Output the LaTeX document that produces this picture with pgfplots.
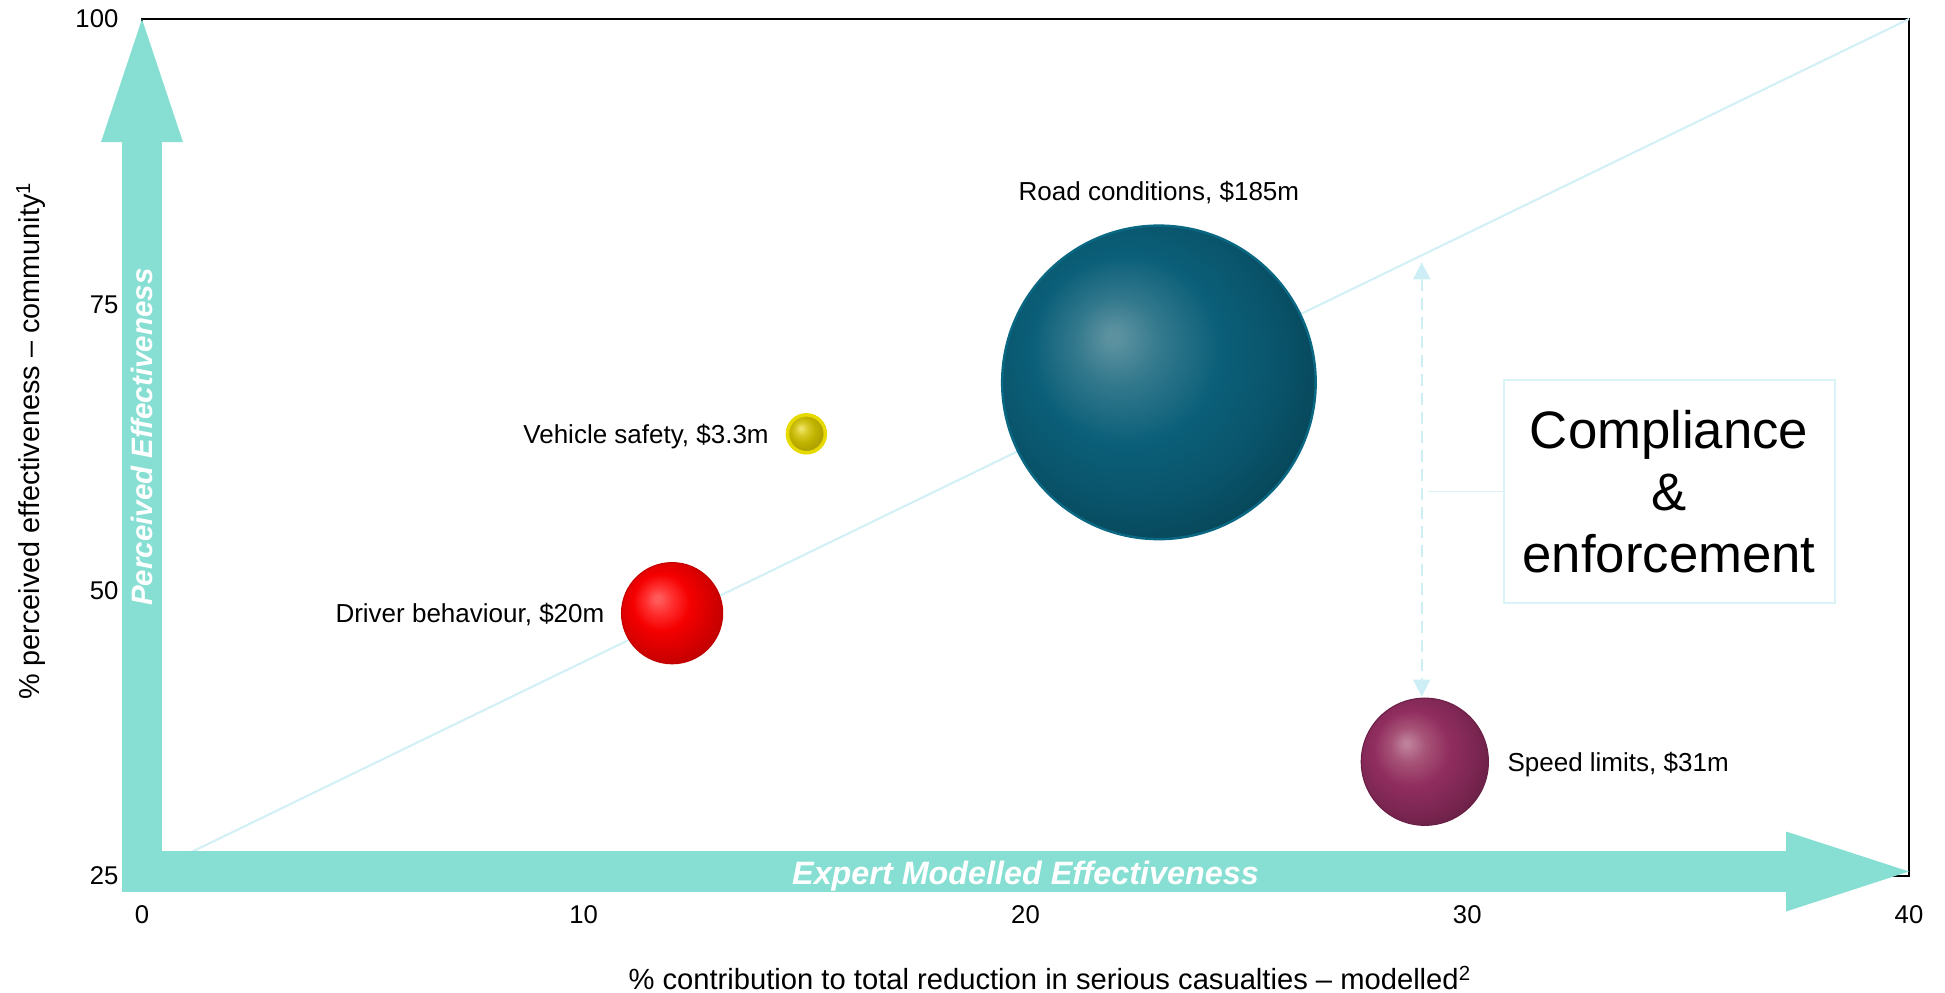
\documentclass[border=0pt]{standalone}
\usepackage{fontspec}
\setmainfont{Liberation Sans}
\usepackage{pgfplots}
\pgfplotsset{compat=1.18}
\usetikzlibrary{arrows.meta}

\definecolor{arrowc}{RGB}{134,223,210}
\definecolor{diagc}{RGB}{210,240,245}
\definecolor{dashc}{RGB}{205,238,244}
\definecolor{boxc}{RGB}{218,243,247}

\definecolor{roadhi}{RGB}{92,146,160}
\definecolor{roadhi2}{RGB}{50,120,140}
\definecolor{roadmid}{RGB}{11,95,121}
\definecolor{roadmid2}{RGB}{9,84,107}
\definecolor{roaddk}{RGB}{7,70,89}
\definecolor{roaddk2}{RGB}{5,60,76}
\definecolor{roadedge}{RGB}{10,104,130}

\definecolor{redhi}{RGB}{255,90,90}
\definecolor{redhi2}{RGB}{255,45,45}
\definecolor{redmid}{RGB}{245,0,0}
\definecolor{redmid2}{RGB}{215,0,0}
\definecolor{reddk}{RGB}{182,0,0}

\definecolor{spdhi}{RGB}{190,128,155}
\definecolor{spdhi2}{RGB}{166,82,118}
\definecolor{spdmid}{RGB}{144,45,95}
\definecolor{spdmid2}{RGB}{126,39,84}
\definecolor{spddk}{RGB}{106,32,70}
\definecolor{spddk2}{RGB}{92,27,61}

\definecolor{vehhi}{RGB}{236,226,100}
\definecolor{vehhi2}{RGB}{216,202,40}
\definecolor{vehmid}{RGB}{194,180,0}
\definecolor{vehdk}{RGB}{166,152,0}
\definecolor{vehring}{RGB}{230,218,0}

% path bounding box maps to the central 50bp square: circle radius = 25bp
\pgfdeclareradialshading{roadsh}{\pgfpoint{-7.5bp}{7.5bp}}{color(0bp)=(roadhi); color(1bp)=(roadhi); color(7bp)=(roadhi2); color(15bp)=(roadmid); color(23bp)=(roadmid2); color(30bp)=(roaddk); color(37bp)=(roaddk2); color(50bp)=(roaddk2)}
\pgfdeclareradialshading{redsh}{\pgfpoint{-7.5bp}{7.5bp}}{color(0bp)=(redhi); color(1.5bp)=(redhi); color(7bp)=(redhi2); color(14bp)=(redmid); color(23bp)=(redmid2); color(33bp)=(reddk); color(50bp)=(reddk)}
\pgfdeclareradialshading{spdsh}{\pgfpoint{-7.5bp}{7.5bp}}{color(0bp)=(spdhi); color(1bp)=(spdhi); color(7bp)=(spdhi2); color(15bp)=(spdmid); color(23bp)=(spdmid2); color(30bp)=(spddk); color(37bp)=(spddk2); color(50bp)=(spddk2)}
\pgfdeclareradialshading{vehsh}{\pgfpoint{-7.5bp}{7.5bp}}{color(0bp)=(vehhi); color(2bp)=(vehhi); color(8bp)=(vehhi2); color(16bp)=(vehmid); color(30bp)=(vehdk); color(50bp)=(vehdk)}

\pgfdeclareplotmark{roadball}{\pgfpathcircle{\pgfpointorigin}{\pgfplotmarksize}\pgfshadepath{roadsh}{0}\pgfusepath{stroke}}
\pgfdeclareplotmark{redball}{\pgfpathcircle{\pgfpointorigin}{\pgfplotmarksize}\pgfshadepath{redsh}{0}\pgfusepath{stroke}}
\pgfdeclareplotmark{spdball}{\pgfpathcircle{\pgfpointorigin}{\pgfplotmarksize}\pgfshadepath{spdsh}{0}\pgfusepath{stroke}}
\pgfdeclareplotmark{vehball}{\pgfpathcircle{\pgfpointorigin}{\pgfplotmarksize}\pgfshadepath{vehsh}{0}\pgfusepath{stroke}}

\newcommand{\lblfont}{\fontsize{7.4}{9}\selectfont}

\begin{document}
\begin{tikzpicture}
\begin{axis}[
  at={(0,0)}, anchor=south west,
  width=176.7mm, height=85.7mm, scale only axis,
  xmin=0, xmax=40, ymin=25, ymax=100,
  xtick={0,10,20,30,40}, ytick={25,50,75,100},
  major tick length=0pt,
  axis line style={line width=0.5pt},
  clip=false,
  /pgf/number format/assume math mode=true,
  ticklabel style={font=\fontsize{7.3}{8.5}\selectfont},
  yticklabel style={inner sep=0pt, anchor=east, xshift=-2.3mm},
  xticklabel style={inner sep=0pt, anchor=north, yshift=-2.9mm},
  every axis x label/.style={at={(axis description cs:0.514,-0.119)}, anchor=center, font=\fontsize{8.3}{10}\selectfont},
  every axis y label/.style={at={(axis description cs:-0.0628,0.508)}, anchor=center, rotate=90, font=\fontsize{8.2}{10}\selectfont},
  xlabel={\% contribution to total reduction in serious casualties – modelled\textsuperscript{2}},
  ylabel={\% perceived effectiveness – community\textsuperscript{1}},
]
% diagonal reference line
\addplot[diagc, line width=0.6pt, no marks] coordinates {(0,25) (40,100)};

% axis arrows
\fill[arrowc] ([xshift=-2mm,yshift=-1.6mm]axis cs:0,25) rectangle ([xshift=2.05mm,yshift=-12.3mm]axis cs:0,100);
\fill[arrowc] (axis cs:0,100) -- ([xshift=-4.1mm,yshift=-12.3mm]axis cs:0,100) -- ([xshift=4.1mm,yshift=-12.3mm]axis cs:0,100) -- cycle;
\fill[arrowc] ([yshift=-1.6mm]axis cs:0,25) rectangle ([xshift=-12.3mm,yshift=2.5mm]axis cs:40,25);
\fill[arrowc] ([yshift=0.45mm]axis cs:40,25) -- ([xshift=-12.3mm,yshift=4.45mm]axis cs:40,25) -- ([xshift=-12.3mm,yshift=-3.55mm]axis cs:40,25) -- cycle;
\node[white, font=\fontsize{8.4}{10}\selectfont\bfseries\itshape, rotate=90, anchor=base, inner sep=0pt] at ([xshift=1.1mm]axis cs:0,63.4) {Perceived Effectiveness};
\node[white, font=\fontsize{9.2}{10}\selectfont\bfseries\itshape, anchor=base, inner sep=0pt] at ([yshift=-0.8mm]axis cs:20,25) {Expert Modelled Effectiveness};

% bubbles (area proportional to cost)
\addplot[only marks, mark=roadball, mark size=44.6pt, mark options={draw=roadedge, line width=0.7pt}] coordinates {(23.02,68.2)};
\addplot[only marks, mark=redball, mark size=14.4pt, mark options={draw=reddk!60!redmid2, line width=0.3pt}] coordinates {(12.0,48.0)};
\addplot[only marks, mark=spdball, mark size=18.1pt, mark options={draw=spddk, line width=0.3pt}] coordinates {(29.04,35.0)};
\addplot[only marks, mark=vehball, mark size=5.4pt, mark options={draw=vehring, line width=1.0pt}] coordinates {(15.04,63.7)};

% bubble labels
\node[font=\lblfont, anchor=base] at (axis cs:23.02,84.1) {Road conditions, \$185m};
\node[font=\lblfont, anchor=base east, inner sep=0pt, xshift=-3.7mm, yshift=-0.95mm] at (axis cs:15.04,63.7) {Vehicle safety, \$3.3m};
\node[font=\lblfont, anchor=base east, inner sep=0pt, xshift=-6.7mm, yshift=-0.95mm] at (axis cs:12.0,48.0) {Driver behaviour, \$20m};
\node[font=\lblfont, anchor=base west, inner sep=0pt, xshift=8.2mm, yshift=-0.95mm] at (axis cs:29.04,35.0) {Speed limits, \$31m};

% compliance annotation
\draw[dashc, line width=0.55pt, dash pattern=on 1.2mm off 0.7mm, {Triangle[length=1.7mm,width=1.7mm]}-{Triangle[length=1.7mm,width=1.7mm]}] (axis cs:28.97,78.7) -- (axis cs:28.97,40.7);
\node[draw=boxc, line width=0.5pt, minimum width=33.1mm, minimum height=22.3mm, align=center, inner sep=0pt, font=\fontsize{15}{17.7}\selectfont] (cbox) at (axis cs:34.57,58.66) {Compliance\\\&\\enforcement};
\draw[boxc, line width=0.5pt] (axis cs:29.1,58.66) -- (cbox.west);
\end{axis}
\pgfresetboundingbox
\path[use as bounding box] (-14.2mm,-11.6mm) rectangle (180.3mm,87.6mm);
\end{tikzpicture}
\end{document}
